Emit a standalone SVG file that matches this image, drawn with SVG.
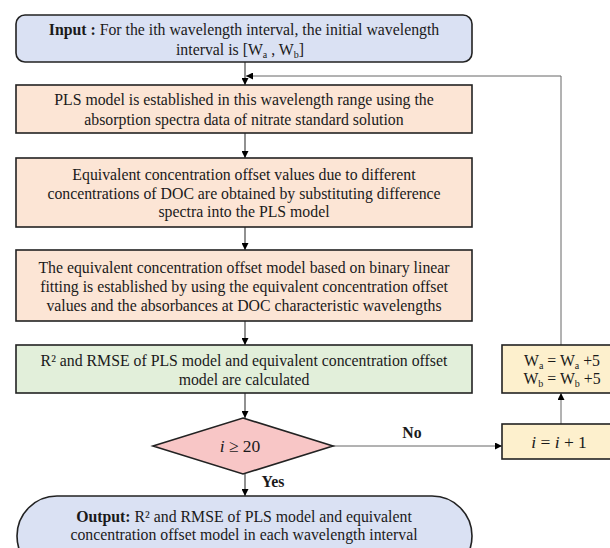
<svg xmlns="http://www.w3.org/2000/svg" width="610" height="548" viewBox="0 0 610 548">
<defs>
<style>
.t{font-family:"Liberation Serif","Times New Roman",serif;font-size:15.8px;fill:#1a1a1a;text-anchor:middle}
.m{font-size:17.5px}
.b{font-weight:bold}
.box{stroke:#222;stroke-width:1.6}
.blue{fill:#dae1f3}
.peach{fill:#fce5d5}
.green{fill:#e2efda}
.pink{fill:#f8c6c6}
.yellow{fill:#fdf0cd}
.ln{fill:none;stroke:#555;stroke-width:1.3}
.fb{fill:none;stroke:#666;stroke-width:1}
</style>
<marker id="ah" viewBox="0 0 8 8" refX="8" refY="4" markerWidth="7" markerHeight="7" markerUnits="userSpaceOnUse" orient="auto">
<path d="M0,0 L8,4 L0,8 z" fill="#000"/>
</marker>
</defs>
<rect width="610" height="548" fill="#fff"/>

<g id="connectors">
<line class="ln" x1="245" y1="62" x2="245" y2="85" marker-end="url(#ah)"/>
<polyline class="fb" points="561,345 561,76 246,76" marker-end="url(#ah)"/>
<line class="ln" x1="245" y1="133" x2="245" y2="158" marker-end="url(#ah)"/>
<line class="ln" x1="245" y1="227" x2="245" y2="250" marker-end="url(#ah)"/>
<line class="ln" x1="245" y1="321" x2="245" y2="345" marker-end="url(#ah)"/>
<line class="ln" x1="245" y1="393" x2="245" y2="418" marker-end="url(#ah)"/>
<line class="ln" x1="245" y1="474" x2="245" y2="496" marker-end="url(#ah)"/>
<line class="fb" x1="333" y1="446" x2="502" y2="446" marker-end="url(#ah)"/>
<line class="fb" x1="561" y1="424" x2="561" y2="393" marker-end="url(#ah)"/>
<text class="t b" x="412" y="438">No</text>
<text class="t b" x="273" y="487">Yes</text>
</g>

<g id="input">
<rect class="box blue" x="16" y="15" width="456" height="47" rx="9"/>
<text class="t" x="244" y="35"><tspan class="b">Input :</tspan> For the ith wavelength interval, the initial wavelength</text>
<text class="t" x="240" y="55">interval is [W<tspan font-size="10" dy="3">a</tspan><tspan dy="-3"> , W</tspan><tspan font-size="10" dy="3">b</tspan><tspan dy="-3">]</tspan></text>
</g>

<g id="pls">
<rect class="box peach" x="16" y="85" width="456" height="48"/>
<text class="t" x="244" y="105">PLS model is established in this wavelength range using the</text>
<text class="t" x="244" y="125">absorption spectra data of nitrate standard solution</text>
</g>

<g id="offset-values">
<rect class="box peach" x="16" y="158" width="456" height="69"/>
<text class="t" x="244" y="180">Equivalent concentration offset values due to different</text>
<text class="t" x="244" y="198.5">concentrations of DOC are obtained by substituting difference</text>
<text class="t" x="244" y="217">spectra into the PLS model</text>
</g>

<g id="offset-model">
<rect class="box peach" x="16" y="250" width="456" height="71"/>
<text class="t" x="244" y="273">The equivalent concentration offset model based on binary linear</text>
<text class="t" x="244" y="292">fitting is established by using the equivalent concentration offset</text>
<text class="t" x="244" y="311">values and the absorbances at DOC characteristic wavelengths</text>
</g>

<g id="calc">
<rect class="box green" x="16" y="345" width="456" height="48"/>
<text class="t" x="244" y="366">R² and RMSE of PLS model and equivalent concentration offset</text>
<text class="t" x="244" y="385">model are calculated</text>
</g>

<g id="decision">
<polygon class="box pink" points="243,418 333,446 243,474 153,446"/>
<text class="t m" x="240" y="452"><tspan font-style="italic">i</tspan> ≥ 20</text>
</g>

<g id="increment">
<rect class="box yellow" x="502" y="424" width="118" height="35"/>
<text class="t m" x="559" y="448"><tspan font-style="italic">i</tspan> = <tspan font-style="italic">i</tspan> + 1</text>
</g>

<g id="shift">
<rect class="box yellow" x="502" y="345" width="118" height="48"/>
<text class="t" x="562" y="366">W<tspan font-size="10" dy="3">a</tspan><tspan dy="-3"> = W</tspan><tspan font-size="10" dy="3">a</tspan><tspan dy="-3"> +5</tspan></text>
<text class="t" x="562" y="384">W<tspan font-size="10" dy="3">b</tspan><tspan dy="-3"> = W</tspan><tspan font-size="10" dy="3">b</tspan><tspan dy="-3"> +5</tspan></text>
</g>

<g id="output">
<rect class="box blue" x="17" y="496" width="455" height="80" rx="40"/>
<text class="t" x="244" y="522"><tspan class="b">Output:</tspan> R² and RMSE of PLS model and equivalent</text>
<text class="t" x="244" y="540">concentration offset model in each wavelength interval</text>
</g>
</svg>
